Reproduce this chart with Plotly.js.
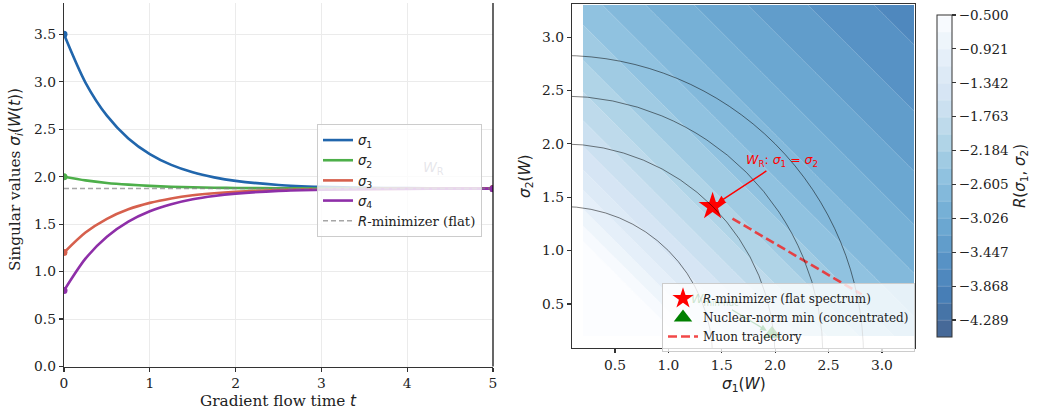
<!DOCTYPE html>
<html>
<head>
<meta charset="utf-8">
<script src="https://cdn.plot.ly/plotly-3.0.1.min.js"></script>
<style>
  html, body { margin: 0; padding: 0; background: #ffffff; }
  #chart { width: 1038px; height: 418px; }
</style>
</head>
<body>
<div id="chart"></div>
<script>
// ---- Left panel: singular values under gradient flow ----
const flowTime = [0, 0.25, 0.5, 0.75, 1, 1.25, 1.5, 1.75, 2, 2.5, 3, 3.5, 4, 4.5, 5];
const sigma1 = [3.500, 2.992, 2.643, 2.403, 2.238, 2.124, 2.046, 1.993, 1.956, 1.913, 1.893, 1.883, 1.879, 1.877, 1.876];
const sigma2 = [2.000, 1.961, 1.934, 1.916, 1.903, 1.894, 1.888, 1.884, 1.881, 1.878, 1.876, 1.876, 1.875, 1.875, 1.875];
const sigma3 = [1.200, 1.411, 1.556, 1.656, 1.724, 1.771, 1.804, 1.826, 1.841, 1.859, 1.868, 1.871, 1.873, 1.874, 1.875];
const sigma4 = [0.800, 1.136, 1.367, 1.526, 1.635, 1.710, 1.762, 1.797, 1.821, 1.850, 1.863, 1.869, 1.872, 1.874, 1.874];
const flatLevel = 1.875;
const timeRange = [0, 5];

const seriesValues = [sigma1, sigma2, sigma3, sigma4];
const seriesNames = ['1', '2', '3', '4'];
const seriesColors = ['#2166ac', '#4daf4a', '#d6604d', '#8e2fa8'];

// ---- Right panel: regularizer landscape over (sigma1, sigma2) ----
const gridAxis = [0.2, 0.51, 0.82, 1.13, 1.44, 1.75, 2.06, 2.37, 2.68, 2.99, 3.3];
// R as a function of sigma1 + sigma2, one entry per grid diagonal (i + j)
const rBySum = [1.833, 0.685, -0.040, -0.570, -0.989, -1.336, -1.631, -1.888, -2.116, -2.320,
                -2.506, -2.675, -2.832, -2.977, -3.112, -3.239, -3.358, -3.470, -3.577, -3.678, -3.774];
const levelStart = -4.5, levelEnd = -0.5, levelCount = 20;
const cbTickVals = [-0.5, -0.921, -1.342, -1.763, -2.184, -2.605, -3.026, -3.447, -3.868, -4.289];
const frobRadii = [1.414, 2.0, 2.449, 2.828];
const rMinimizer = {s1: [1.414], s2: [1.414]};
const nucMin = {s1: [1.97], s2: [0.22]};
const muonPath = {s1: [1.60, 2.81], s2: [1.30, 0.59]};

const W = 1038, H = 418;
const SERIF = 'DejaVu Serif';
const SANS = 'DejaVu Sans';
const math = s => '<span style="font-family:DejaVu Sans">' + s + '</span>';

const traces = [];

// curves
seriesValues.forEach((vals, k) => {
  traces.push({
    type: 'scatter', mode: 'lines', x: flowTime, y: vals,
    xaxis: 'x', yaxis: 'y',
    line: {color: seriesColors[k], width: 2.6, shape: 'spline', smoothing: 0.8},
    name: math('<i>σ</i><sub>' + seriesNames[k] + '</sub>'),
    legend: 'legend', hoverinfo: 'skip'
  });
});
// flat R-minimizer reference
traces.push({
  type: 'scatter', mode: 'lines', x: timeRange, y: [flatLevel, flatLevel],
  xaxis: 'x', yaxis: 'y',
  line: {color: 'rgba(128,128,128,0.7)', width: 1.4, dash: '5px,3px'},
  name: math('<i>R</i>') + '-minimizer (flat)', legend: 'legend', hoverinfo: 'skip'
});
// start and end markers
seriesValues.forEach((vals, k) => {
  traces.push({
    type: 'scatter', mode: 'markers',
    x: [flowTime[0], flowTime[flowTime.length - 1]],
    y: [vals[0], vals[vals.length - 1]],
    xaxis: 'x', yaxis: 'y', cliponaxis: true,
    marker: {color: seriesColors[k], size: 7},
    showlegend: false, hoverinfo: 'skip'
  });
});

// landscape grid
const zGrid = gridAxis.map((_, j) => gridAxis.map((_, i) => rBySum[i + j]));

const bluesR = [
  [0.000, 'rgb(70,100,144)'],
  [0.125, 'rgb(70,125,181)'],
  [0.250, 'rgb(89,149,199)'],
  [0.375, 'rgb(113,173,212)'],
  [0.500, 'rgb(144,194,224)'],
  [0.625, 'rgb(182,215,232)'],
  [0.750, 'rgb(212,228,243)'],
  [0.875, 'rgb(230,240,249)'],
  [1.000, 'rgb(252,253,255)']
];

traces.push({
  type: 'contour', x: gridAxis, y: gridAxis, z: zGrid,
  xaxis: 'x2', yaxis: 'y2',
  colorscale: bluesR, zmin: levelStart, zmax: levelEnd, autocontour: false,
  contours: {start: levelStart, end: levelEnd, size: (levelEnd - levelStart) / (levelCount - 1), coloring: 'fill'},
  line: {color: 'rgba(255,255,255,0.35)', width: 0.6, smoothing: 0},
  showlegend: false, hoverinfo: 'skip',
  colorbar: {
    x: 937 / W, xanchor: 'left', xpad: 0,
    y: 1 - 15 / H, yanchor: 'top', ypad: 0,
    len: 322, lenmode: 'pixels', thickness: 15, thicknessmode: 'pixels',
    outlinewidth: 1, outlinecolor: '#333',
    tickmode: 'array', tickvals: cbTickVals,
    ticktext: cbTickVals.map(v => '\u2212' + Math.abs(v).toFixed(3)),
    ticks: 'outside', ticklen: 4, tickwidth: 1.2, tickcolor: '#333',
    tickfont: {family: SERIF, size: 13.5, color: '#222'},
    title: {text: '<i>R</i>(<i>σ</i><sub>1</sub>, <i>σ</i><sub>2</sub>)', side: 'right',
            font: {family: SANS, size: 15, color: '#222'}}
  }
});

// Muon trajectory
traces.push({
  type: 'scatter', mode: 'lines', x: muonPath.s1, y: muonPath.s2,
  xaxis: 'x2', yaxis: 'y2',
  line: {color: 'rgba(240,40,40,0.85)', width: 2.6, dash: '9px,4px'},
  name: 'Muon trajectory', legend: 'legend2', hoverinfo: 'skip'
});
// nuclear-norm minimizer
traces.push({
  type: 'scatter', mode: 'markers', x: nucMin.s1, y: nucMin.s2,
  xaxis: 'x2', yaxis: 'y2',
  marker: {symbol: 'triangle-up', size: 16, color: '#008000'},
  name: 'Nuclear-norm min (concentrated)', legend: 'legend2', hoverinfo: 'skip'
});
// R-minimizer
traces.push({
  type: 'scatter', mode: 'markers', x: rMinimizer.s1, y: rMinimizer.s2,
  xaxis: 'x2', yaxis: 'y2',
  marker: {symbol: 'star', size: 21, color: '#ff0000', line: {width: 0}},
  name: math('<i>R</i>') + '-minimizer (flat spectrum)', legend: 'legend2', hoverinfo: 'skip'
});

const tickFont = {family: SERIF, size: 13.8, color: '#222'};
const axisBase = {
  ticks: 'outside', ticklen: 4, tickwidth: 1.2, tickcolor: '#333',
  showline: true, linecolor: '#333', linewidth: 1.2, zeroline: false,
  tickfont: tickFont, fixedrange: true
};

const shapes = [
  {type: 'line', xref: 'x domain', yref: 'y domain', x0: 1, x1: 1, y0: 0, y1: 1,
   line: {color: '#000', width: 1.2}}
];
frobRadii.forEach(r => {
  shapes.push({type: 'circle', xref: 'x2', yref: 'y2', x0: -r, y0: -r, x1: r, y1: r,
               line: {color: 'rgba(0,0,0,0.5)', width: 1}, layer: 'above'});
});

const centred = {xanchor: 'center', yanchor: 'middle', showarrow: false};
const annotations = [
  Object.assign({xref: 'paper', yref: 'paper', x: 278.5 / W, y: 1 - 401 / H,
   text: 'Gradient flow time ' + math('<i>t</i>'), font: {family: SERIF, size: 15.3, color: '#222'}}, centred),
  Object.assign({xref: 'paper', yref: 'paper', x: 16 / W, y: 1 - 180 / H, textangle: -90,
   text: 'Singular values ' + math('<i>σ<sub>i</sub></i>(<i>W</i>(<i>t</i>))'),
   font: {family: SERIF, size: 15.3, color: '#222'}}, centred),
  Object.assign({xref: 'paper', yref: 'paper', x: 743.5 / W, y: 1 - 385 / H,
   text: '<i>σ</i><sub>1</sub>(<i>W</i>)', font: {family: SANS, size: 15.3, color: '#222'}}, centred),
  Object.assign({xref: 'paper', yref: 'paper', x: 526 / W, y: 1 - 176 / H, textangle: -90,
   text: '<i>σ</i><sub>2</sub>(<i>W</i>)', font: {family: SANS, size: 15.3, color: '#222'}}, centred),
  Object.assign({xref: 'x', yref: 'y', x: 4.31, y: 2.09,
   text: '<i>W</i><sub>R</sub>', font: {family: SANS, size: 14, color: 'rgba(200,200,210,0.45)'}}, centred),
  {xref: 'x2', yref: 'y2', x: rMinimizer.s1[0], y: rMinimizer.s2[0],
   axref: 'x2', ayref: 'y2', ax: 2.06, ay: 1.84,
   text: '<i>W</i><sub>R</sub>: <i>σ</i><sub>1</sub> = <i>σ</i><sub>2</sub>',
   font: {family: SANS, size: 12.5, color: '#ff0000'},
   showarrow: true, arrowhead: 2, arrowsize: 1.1, arrowwidth: 1.5, arrowcolor: '#ff0000', standoff: 5},
  {xref: 'x2', yref: 'y2', x: nucMin.s1[0], y: nucMin.s2[0],
   axref: 'x2', ayref: 'y2', ax: 1.44, ay: 0.54,
   text: '<i>W</i><sub>min-nuc</sub>',
   font: {family: SANS, size: 12.5, color: 'rgba(0,128,0,0.2)'},
   showarrow: true, arrowhead: 2, arrowsize: 1, arrowwidth: 1.3, arrowcolor: 'rgba(0,128,0,0.2)', standoff: 6}
];

const legendBase = {
  xanchor: 'left', yanchor: 'top', bgcolor: 'rgba(255,255,255,0.8)',
  bordercolor: '#cccccc', borderwidth: 1, tracegroupgap: 0, itemwidth: 30
};

const layout = {
  width: W, height: H,
  margin: {l: 0, r: 0, t: 0, b: 0},
  paper_bgcolor: '#ffffff', plot_bgcolor: '#ffffff',
  showlegend: true,
  xaxis: Object.assign({}, axisBase, {
    domain: [64 / W, 493 / W], range: timeRange, anchor: 'y',
    tickmode: 'linear', tick0: 0, dtick: 1,
    showgrid: true, gridcolor: '#ebebeb', gridwidth: 1
  }),
  yaxis: Object.assign({}, axisBase, {
    domain: [1 - 366.5 / H, 1 - 3 / H], range: [0, 3.83], anchor: 'x',
    tickmode: 'linear', tick0: 0, dtick: 0.5, tickformat: '.1f',
    showgrid: true, gridcolor: '#ebebeb', gridwidth: 1
  }),
  xaxis2: Object.assign({}, axisBase, {
    domain: [572 / W, 915 / W], range: [0.097, 3.31], anchor: 'y2', mirror: true,
    tickmode: 'linear', tick0: 0.5, dtick: 0.5, tickformat: '.1f', showgrid: false
  }),
  yaxis2: Object.assign({}, axisBase, {
    domain: [1 - 348 / H, 1 - 4 / H], range: [0.088, 3.31], anchor: 'x2', mirror: true,
    tickmode: 'linear', tick0: 0.5, dtick: 0.5, tickformat: '.1f', showgrid: false
  }),
  legend: Object.assign({}, legendBase, {x: 317 / W, y: 1 - 124 / H, traceorder: 'normal',
    font: {family: SERIF, size: 13.2, color: '#222'}}),
  legend2: Object.assign({}, legendBase, {x: 662 / W, y: 1 - 283 / H, traceorder: 'reversed',
    font: {family: SERIF, size: 12, color: '#222'}}),
  shapes: shapes,
  annotations: annotations
};

Plotly.newPlot('chart', traces, layout, {staticPlot: true, displayModeBar: false});
</script>
</body>
</html>
